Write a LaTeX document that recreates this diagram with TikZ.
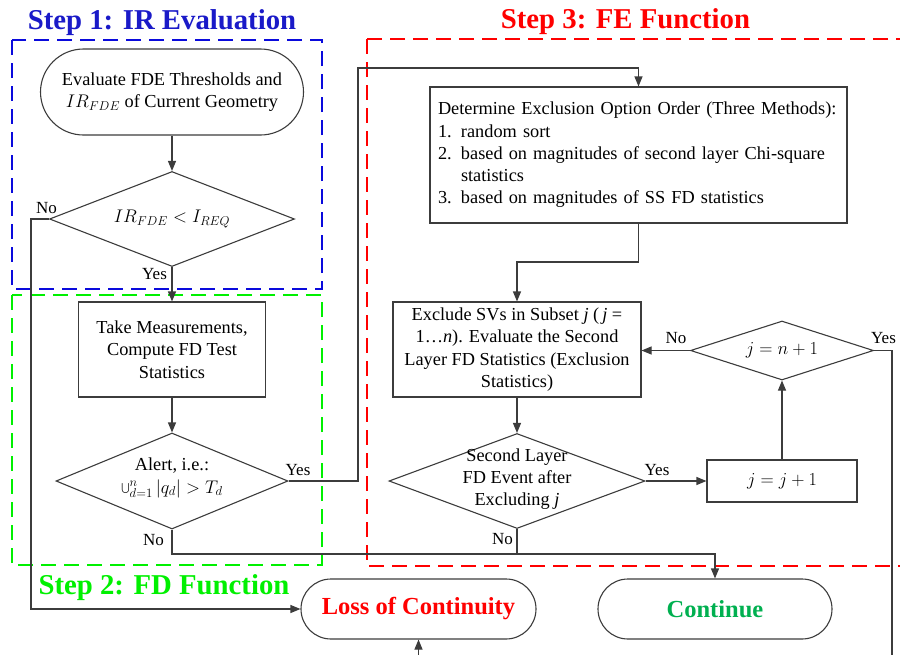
\documentclass[tikz,border=0pt]{standalone}
\usepackage{fix-cm}
\usepackage{fontspec}
\setmainfont{Liberation Serif}
\usetikzlibrary{shapes.geometric,arrows.meta}
\definecolor{tblue}{RGB}{26,26,200}
\definecolor{dblue}{RGB}{10,10,220}
\definecolor{tgreen}{RGB}{0,240,0}
\definecolor{cgreen}{RGB}{0,176,80}
\definecolor{tred}{RGB}{255,0,0}
\definecolor{lc}{RGB}{60,60,60}
\begin{document}
\begin{tikzpicture}[x=1pt,y=-1pt,
  txt/.style={font=\fontsize{18.3}{22.3}\selectfont},
  lbl/.style={font=\fontsize{17}{20}\selectfont, anchor=base, inner sep=0},
  steptitle/.style={font=\fontsize{28.75}{32}\selectfont\bfseries, anchor=base, inner sep=0},
  box/.style={draw=lc, fill=white, line width=1.1pt, rectangle, inner sep=0, align=center, txt},
  term/.style={box, font=\fontsize{24.5}{28}\selectfont\bfseries},
  diam/.style={draw=lc, fill=white, line width=1.1pt, diamond, inner sep=0},
  dtxt/.style={txt, align=center, inner sep=0},
  arr/.style={draw=lc, line width=1.1pt, -{Triangle[length=10pt,width=8pt]}},
  ln/.style={draw=lc, line width=1.1pt},
  frame/.style={dash pattern=on 15pt off 8pt, line width=2.4pt},
]
\useasboundingbox (0,0) rectangle (900,654);
\clip (0,0) rectangle (900,654);

% dashed frames
\draw[frame, dblue] (12,40) rectangle (322,289);
\draw[frame, tgreen] (12,295) rectangle (322,565);
\draw[frame, tred] (367,39) rectangle (940,566);

% titles
\node[steptitle, text=tblue] (t1) at (162,29) {Step 1: IR Evaluation};
\node[steptitle, text=tred] (t3) at (625.5,28) {Step 3: FE Function};
\node[steptitle, text=tgreen] (t2) at (164,594) {Step 2: FD Function};

% nodes
\node[box, rounded corners=43pt, minimum width=263pt, minimum height=86pt] (start) at (172,92)
  {Evaluate FDE Thresholds and\\$IR_{FDE}$ of Current Geometry};
\node[diam, minimum width=245pt, minimum height=95pt] (d1) at (172,219) {};
\node[dtxt] (d1t) at (d1.center) {$IR_{FDE} < I_{REQ}$};
\node[box, minimum width=187pt, minimum height=95pt] (b1) at (172,349.5)
  {Take Measurements,\\Compute FD Test\\Statistics};
\node[diam, minimum width=232pt, minimum height=96pt] (d2) at (172,481) {};
\node[dtxt] (d2t) at ([yshift=3pt]d2.center) {Alert, i.e.:\\$\bigcup_{d=1}^{n}|q_d| > T_d$};

\node[term, rounded corners=30pt, minimum width=235pt, minimum height=60pt, text=tred] (loss) at (418.5,609) {Loss of Continuity};
\node[term, rounded corners=30pt, minimum width=234pt, minimum height=60pt, text=cgreen] (cont) at (715,609) {Continue};

\node[box, minimum width=417pt, minimum height=136pt, align=left, text width=401pt, inner xsep=8pt] (b3) at (638.5,155)
  {Determine Exclusion Option Order (Three Methods):\\
   \makebox[23pt][l]{1.}random sort\\
   \makebox[23pt][l]{2.}based on magnitudes of second layer Chi-square\\
   \hspace*{23pt}statistics\\
   \makebox[23pt][l]{3.}based on magnitudes of SS FD statistics};

\node[box, minimum width=248pt, minimum height=95pt] (b4) at (517,349.5)
  {Exclude SVs in Subset \textit{j} (\,\textit{j} =\\1…\textit{n}). Evaluate the Second\\Layer FD Statistics (Exclusion\\Statistics)};
\node[diam, minimum width=256pt, minimum height=95pt] (d4) at (517,481) {};
\node[dtxt] (d4t) at ([yshift=2pt]d4.center) {Second Layer\\FD Event after\\Excluding \textit{j}};
\node[box, minimum width=150pt, minimum height=42pt] (b5) at (782,481) {$j = j + 1$};
\node[diam, minimum width=183pt, minimum height=59pt] (d5) at (782,350.5) {};
\node[dtxt] (d5t) at (d5.center) {$j = n + 1$};

% helper coordinates
\coordinate (cA) at (358,68);
\coordinate (cB) at (31,609);
\coordinate (cC) at (715,554);
\coordinate (cD) at (517,262);
\coordinate (cE) at (892,680);
\coordinate (cF) at (418.5,680);

% connectors
\draw[arr] (start.south) -- (d1.north);
\draw[arr] (d1.south) -- (b1.north);
\draw[arr] (d1.west) -| (cB) -- (loss.west);
\draw[arr] (b1.south) -- (d2.north);
\draw[arr] (d2.east) -| (cA) -| (b3.north);
\draw[arr] (d2.south) |- (cC) -- (cont.north);
\draw[arr] (b3.south) |- (cD) -- (b4.north);
\draw[arr] (b4.south) -- (d4.north);
\draw[ln] (d4.south) -- (d4.south |- cC);
\draw[arr] (d4.east) -- (b5.west);
\draw[arr] (b5.north) -- (d5.south);
\draw[arr] (d5.west) -- (b4.east |- d5.west);
\draw[ln] (d5.east) -| (cE);
\draw[arr] (cF) -- (loss.south);

% labels
\node[lbl] (l1) at (46.5,213) {No};
\node[lbl] (l2) at (154.5,279) {Yes};
\node[lbl] (l3) at (298,475) {Yes};
\node[lbl] (l4) at (153.5,545) {No};
\node[lbl] (l5) at (657,475) {Yes};
\node[lbl] (l6) at (502.5,544) {No};
\node[lbl] (l7) at (676,343) {No};
\node[lbl] (l8) at (883.5,343) {Yes};
\end{tikzpicture}
\end{document}
